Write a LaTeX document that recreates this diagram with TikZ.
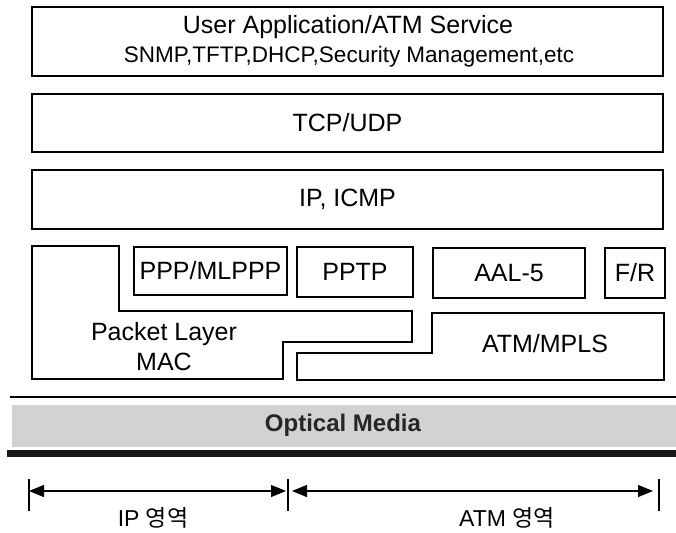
\documentclass[tikz,border=0pt]{standalone}
\usepackage{fontspec}
\setmainfont{Liberation Sans}
\newfontfamily\krfont{Noto Sans CJK KR}
\usepackage{tikz}
\usetikzlibrary{arrows.meta}

\tikzset{
  layerbox/.style={draw=black, line width=1.3pt, inner sep=0pt},
  biglabel/.style={font=\fontsize{25}{30}\selectfont},
  dimarrow/.style={line width=1.2pt, {Triangle[length=15pt,width=12pt]}-{Triangle[length=15pt,width=12pt]}},
}

\begin{document}
\begin{tikzpicture}[x=1pt,y=1pt]
\useasboundingbox (0,0) rectangle (676,-532);
% upper layers
\node[layerbox, minimum width=631pt, minimum height=69pt] (app) at (347.5,-41.5) {};
\node[biglabel] (apptitle) at (348,-27) {User Application/ATM Service};
\node[font=\fontsize{22.5}{26}\selectfont] (appsub) at (349,-57) {SNMP,TFTP,DHCP,Security Management,etc};
\node[layerbox, minimum width=631pt, minimum height=58pt, biglabel] (tcp) at (347.5,-123) {TCP/UDP};
\node[layerbox, minimum width=631pt, minimum height=59pt, biglabel] (ip) at (347.5,-199.5) {IP, ICMP};
% link layer
\node[layerbox, minimum width=153pt, minimum height=48pt, biglabel] (ppp) at (210.5,-271) {PPP/MLPPP};
\node[layerbox, minimum width=116pt, minimum height=50pt, biglabel] (pptp) at (355,-272) {PPTP};
\node[layerbox, minimum width=152pt, minimum height=50pt, biglabel] (aal) at (509,-273) {AAL-5};
\node[layerbox, minimum width=60pt, minimum height=50pt, biglabel] (fr) at (635,-273) {F/R};
\draw[line width=1.3pt] (32,-246) -- (119,-246) -- (119,-311) -- (412,-311) -- (412,-342)
  -- (283,-342) -- (283,-379) -- (32,-379) -- cycle;
\node[biglabel, align=center] (mac) at (164,-347) {Packet Layer\\MAC};
\draw[line width=1.3pt] (297,-353) -- (432,-353) -- (432,-313) -- (664,-313) -- (664,-380)
  -- (297,-380) -- cycle;
\node[biglabel] (atm) at (545,-344) {ATM/MPLS};
% media
\draw[line width=1.3pt] (10,-397) -- (676,-397);
\fill[gray!35] (12,-405) rectangle (676,-447);
\node[font=\fontsize{24}{28}\selectfont\bfseries, text=black!85] (media) at (343,-425) {Optical Media};
\fill[black!90] (7,-450) rectangle (676,-457);
% domains
\coordinate (tickL) at (29,-491);
\coordinate (tickM) at (288,-491);
\coordinate (tickR) at (659,-491);
\foreach \t in {tickL,tickM,tickR}
  \draw[line width=1.2pt] ([yshift=12pt]\t) -- ([yshift=-20pt]\t);
\draw[dimarrow] (tickL) -- ([xshift=-2pt]tickM);
\draw[dimarrow] ([xshift=4pt]tickM) -- ([xshift=-6pt]tickR);
\node[font=\fontsize{23}{26}\selectfont] (ipdom) at (153,-518) {IP {\krfont 영역}};
\node[font=\fontsize{23}{26}\selectfont] (atmdom) at (507,-518) {ATM {\krfont 영역}};
\end{tikzpicture}
\end{document}
